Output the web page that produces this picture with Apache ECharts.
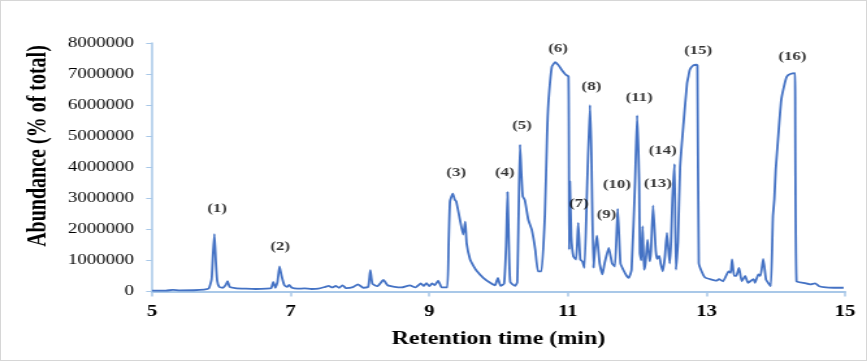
<!DOCTYPE html>
<html>
<head>
<meta charset="utf-8">
<script src="https://cdn.jsdelivr.net/npm/echarts@6/dist/echarts.min.js"></script>
<style>
html,body{margin:0;padding:0;background:#fff;}
#wrap{position:relative;width:867px;height:361px;overflow:hidden;background:#fff;}
#c{position:absolute;left:0;top:0;width:667px;height:361px;transform:scaleX(1.3);transform-origin:0 0;}
#frame{position:absolute;left:0;top:0;width:867px;height:361px;box-sizing:border-box;border:1px solid #d6d6d6;pointer-events:none;}
</style>
</head>
<body>
<div id="wrap"><div id="c"></div><div id="frame"></div></div>
<script>
// Retention time (min)
const retentionTime = [
5.00,5.20,5.30,5.40,5.60,5.75,5.82,5.86,5.88,5.90,5.92,5.94,5.97,6.02,6.06,6.09,6.12,6.20,6.35,6.50,
6.65,6.72,6.75,6.78,6.81,6.84,6.87,6.91,6.95,6.98,7.02,7.10,7.20,7.30,7.40,7.50,7.55,7.60,7.65,7.70,
7.75,7.80,7.90,7.97,8.05,8.12,8.15,8.18,8.25,8.34,8.40,8.50,8.60,8.72,8.80,8.88,8.92,8.96,9.00,9.04,
9.08,9.13,9.18,9.26,9.28,9.30,9.34,9.37,9.39,9.44,9.49,9.52,9.54,9.59,9.64,9.69,9.78,9.88,9.95,9.99,
10.03,10.08,10.11,10.13,10.15,10.17,10.24,10.27,10.29,10.31,10.33,10.35,10.38,10.43,10.48,10.53,10.57,10.62,10.67,10.70,
10.72,10.77,10.82,10.86,10.88,10.91,10.97,11.01,11.02,11.03,11.05,11.08,11.12,11.15,11.18,11.21,11.24,11.28,11.32,11.34,
11.37,11.39,11.42,11.44,11.46,11.50,11.53,11.59,11.64,11.68,11.72,11.76,11.80,11.85,11.88,11.92,11.97,12.00,12.03,12.04,
12.06,12.08,12.10,12.12,12.15,12.18,12.20,12.23,12.27,12.29,12.32,12.34,12.37,12.40,12.43,12.47,12.49,12.51,12.54,12.56,
12.59,12.62,12.67,12.72,12.74,12.76,12.81,12.86,12.87,12.89,12.93,12.98,13.05,13.15,13.18,13.24,13.32,13.35,13.37,13.40,
13.43,13.47,13.51,13.56,13.60,13.68,13.70,13.75,13.78,13.82,13.86,13.89,13.93,13.96,13.98,14.00,14.04,14.08,14.13,14.16,
14.21,14.28,14.29,14.30,14.40,14.50,14.57,14.62,14.69,14.84,14.98
];
// Abundance
const abundance = [
30000,30000,50000,35000,40000,60000,100000,400000,1200000,1850000,1000000,350000,150000,120000,200000,330000,150000,110000,90000,80000,
90000,110000,310000,120000,300000,810000,500000,200000,150000,210000,120000,90000,100000,80000,90000,150000,180000,130000,180000,120000,
200000,110000,140000,230000,120000,150000,690000,250000,170000,370000,200000,150000,130000,200000,130000,260000,180000,270000,170000,260000,
200000,350000,130000,130000,1500000,2900000,3150000,2950000,2900000,2350000,1830000,2250000,1550000,1030000,820000,650000,440000,280000,200000,440000,
180000,250000,1500000,3200000,1500000,300000,180000,300000,2500000,4730000,3800000,3060000,2940000,2310000,1990000,1350000,650000,650000,2500000,5000000,
6070000,7240000,7380000,7300000,7240000,7140000,6980000,6920000,1350000,3550000,1780000,1130000,1030000,2210000,1030000,970000,760000,3500000,6000000,4500000,
770000,1300000,1800000,1350000,900000,550000,900000,1400000,900000,800000,2660000,900000,700000,500000,440000,700000,3500000,5670000,3500000,1240000,
1000000,2100000,700000,900000,1670000,970000,1300000,2770000,1300000,1050000,1150000,900000,650000,1100000,1890000,900000,1600000,3000000,4100000,700000,
1600000,4000000,5420000,6700000,6920000,7140000,7280000,7300000,7270000,920000,650000,450000,400000,350000,400000,330000,650000,600000,1030000,500000,
500000,760000,330000,500000,280000,400000,280000,550000,500000,1050000,380000,280000,170000,2420000,2960000,3920000,5100000,6170000,6700000,6920000,
7000000,7030000,7030000,330000,280000,230000,260000,180000,140000,120000,120000
];
// Peak labels
const peakNames = ['(1)','(2)','(3)','(4)','(5)','(6)','(7)','(8)','(9)','(10)','(11)','(13)','(14)','(15)','(16)'];
const peakLabelX = [5.94,6.85,9.39,10.09,10.34,10.86,11.16,11.34,11.56,11.71,12.03,12.30,12.37,12.88,14.24];
const peakLabelY = [2670000,1450000,3830000,3830000,5340000,7810000,2830000,6590000,2480000,3440000,6240000,3470000,4530000,7750000,7570000];
const xTicks = [5,7,9,11,13,15];

const S = 1.3;
const serif = '"Times New Roman","Liberation Serif",serif';
const axisBlue = '#a9c8e8';

const chart = echarts.init(document.getElementById('c'), null, {renderer:'canvas'});
chart.setOption({
  animation:false,
  backgroundColor:'transparent',
  grid:{left:152/S, right:667-845/S, top:43, bottom:361-291.5},
  xAxis:{
    type:'value', min:xTicks[0], max:xTicks[xTicks.length-1], interval:2,
    name:'Retention time (min)', nameLocation:'middle', nameGap:38,
    nameTextStyle:{fontFamily:serif, fontWeight:'bold', fontSize:18.5, color:'#000'},
    axisLine:{show:true, lineStyle:{color:axisBlue, width:2}},
    axisTick:{show:true, length:5, lineStyle:{color:axisBlue, width:1.5}},
    axisLabel:{fontFamily:serif, fontWeight:'bold', fontSize:16, color:'#000', margin:12},
    splitLine:{show:false}
  },
  yAxis:{
    type:'value', min:0, max:8000000, interval:1000000,
    axisLine:{show:true, lineStyle:{color:axisBlue, width:1.5}},
    axisTick:{show:true, length:4.5, lineStyle:{color:axisBlue, width:1}},
    axisLabel:{fontFamily:serif, fontSize:14.5, color:'#000', margin:14, formatter:v=>String(v)},
    splitLine:{show:false}
  },
  graphic:[{
    type:'text', x:39/S, y:146, rotation:Math.PI/2,
    style:{text:'Abundance (% of total)', fontFamily:serif, fontWeight:'bold', fontSize:20, fill:'#000', align:'center', verticalAlign:'middle'}
  }],
  series:[
    {
      type:'line', data:retentionTime.map((t,i)=>[t,abundance[i]]),
      showSymbol:false, symbol:'none', smooth:0.15,
      lineStyle:{color:'#4472c4', width:1.8}, z:2
    },
    {
      type:'scatter', symbolSize:0,
      data:peakLabelX.map((x,i)=>({value:[x,peakLabelY[i]], name:peakNames[i]})),
      label:{show:true, position:'inside', formatter:p=>p.name, fontFamily:serif, fontWeight:'bold', fontSize:13, color:'#000'},
      z:3
    }
  ]
});
</script>
</body>
</html>
